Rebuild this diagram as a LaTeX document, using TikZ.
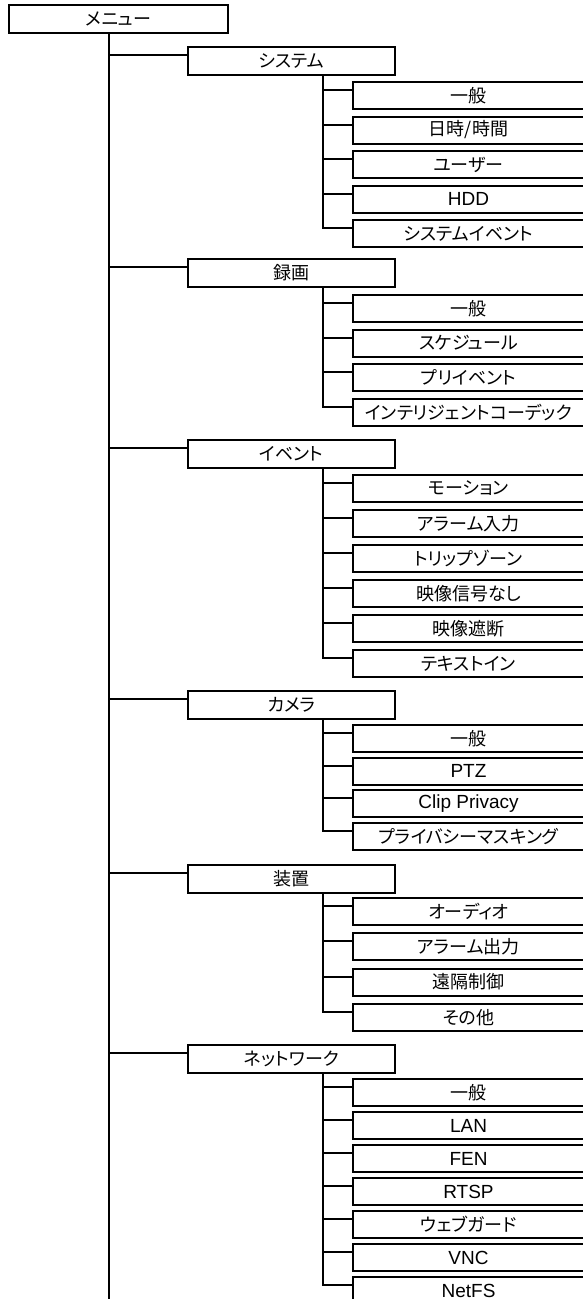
\documentclass[tikz,border=0pt]{standalone}
\usepackage{fontspec}
\setmainfont{Liberation Sans}
\newfontfamily\jp[RawFeature=+palt]{Noto Sans CJK JP}
\usetikzlibrary{positioning}
\tikzset{
  menubox/.style={rectangle,draw=black,line width=2pt,fill=white,anchor=north west,inner sep=0pt,outer sep=0pt,minimum width=219pt,minimum height=28pt,font=\jp\fontsize{18}{20}\selectfont},
  groupbox/.style={rectangle,draw=black,line width=2pt,fill=white,anchor=north west,inner sep=0pt,outer sep=0pt,minimum width=207pt,minimum height=28pt,font=\jp\fontsize{18}{20}\selectfont},
  itembox/.style={rectangle,draw=black,line width=2pt,fill=white,anchor=north west,inner sep=0pt,outer sep=0pt,minimum width=231pt,minimum height=27pt,font=\jp\fontsize{18}{20}\selectfont},
  latin/.style={font=\fontsize{19}{22}\selectfont},
  link/.style={line width=2pt,black}
}

\begin{document}
\begin{tikzpicture}[x=1pt,y=-1pt]
    \path[use as bounding box,fill=white] (0,0) rectangle (582,1299);

    \node[menubox] (menu) at (9,5) {メニュー};
    \coordinate (mainroot) at ([xshift=-9.5pt]menu.south);
    \coordinate (mainend) at (109,1299);

    % システム
    \node[groupbox] (sys) at (188,47) {システム};
    \node[itembox] (sys1) at (353,82) {一般};
    \node[itembox,below=7.5pt of sys1] (sys2) {日時/時間};
    \node[itembox,below=7.5pt of sys2] (sys3) {ユーザー};
    \node[itembox,latin,below=7.5pt of sys3] (sys4) {HDD};
    \node[itembox,below=7.5pt of sys4] (sys5) {システムイベント};

    % 録画
    \node[groupbox] (rec) at (188,259) {録画};
    \node[itembox] (rec1) at (353,295) {一般};
    \node[itembox,below=7.5pt of rec1] (rec2) {スケジュール};
    \node[itembox,below=7.5pt of rec2] (rec3) {プリイベント};
    \node[itembox,below=7.5pt of rec3] (rec4) {インテリジェントコーデック};

    % イベント
    \node[groupbox] (evt) at (188,440) {イベント};
    \node[itembox] (evt1) at (353,475) {モーション};
    \node[itembox,below=8pt of evt1] (evt2) {アラーム入力};
    \node[itembox,below=8pt of evt2] (evt3) {トリップゾーン};
    \node[itembox,below=8pt of evt3] (evt4) {映像信号なし};
    \node[itembox,below=8pt of evt4] (evt5) {映像遮断};
    \node[itembox,below=8pt of evt5] (evt6) {テキストイン};

    % カメラ
    \node[groupbox] (cam) at (188,691) {カメラ};
    \node[itembox] (cam1) at (353,725) {一般};
    \node[itembox,latin,below=5.7pt of cam1] (cam2) {PTZ};
    \node[itembox,latin,below=5.7pt of cam2] (cam3) {Clip Privacy};
    \node[itembox,below=5.7pt of cam3] (cam4) {プライバシーマスキング};

    % 装置
    \node[groupbox] (dev) at (188,865) {装置};
    \node[itembox] (dev1) at (353,898) {オーディオ};
    \node[itembox,below=8.3pt of dev1] (dev2) {アラーム出力};
    \node[itembox,below=8.3pt of dev2] (dev3) {遠隔制御};
    \node[itembox,below=8.3pt of dev3] (dev4) {その他};

    % ネットワーク
    \node[groupbox] (net) at (188,1045) {ネットワーク};
    \node[itembox] (net1) at (353,1079) {一般};
    \node[itembox,latin,below=6pt of net1] (net2) {LAN};
    \node[itembox,latin,below=6pt of net2] (net3) {FEN};
    \node[itembox,latin,below=6pt of net3] (net4) {RTSP};
    \node[itembox,below=6pt of net4] (net5) {ウェブガード};
    \node[itembox,latin,below=6pt of net5] (net6) {VNC};
    \node[itembox,latin,below=6pt of net6] (net7) {NetFS};

    % main trunk
    \draw[link] (mainroot) -- (mainend);
    \draw[link] (mainroot) |- ([yshift=6pt]sys.west);
    \draw[link] (mainroot) |- ([yshift=6pt]rec.west);
    \draw[link] (mainroot) |- ([yshift=6pt]evt.west);
    \draw[link] (mainroot) |- ([yshift=6pt]cam.west);
    \draw[link] (mainroot) |- ([yshift=6pt]dev.west);
    \draw[link] (mainroot) |- ([yshift=6pt]net.west);

    % sub trunks
    \draw[link] ([xshift=31.5pt]sys.south) |- ([yshift=5.5pt]sys1.west);
    \draw[link] ([xshift=31.5pt]sys.south) |- ([yshift=5.5pt]sys2.west);
    \draw[link] ([xshift=31.5pt]sys.south) |- ([yshift=5.5pt]sys3.west);
    \draw[link] ([xshift=31.5pt]sys.south) |- ([yshift=5.5pt]sys4.west);
    \draw[link] ([xshift=31.5pt]sys.south) |- ([yshift=5.5pt]sys5.west);

    \draw[link] ([xshift=31.5pt]rec.south) |- ([yshift=5.5pt]rec1.west);
    \draw[link] ([xshift=31.5pt]rec.south) |- ([yshift=5.5pt]rec2.west);
    \draw[link] ([xshift=31.5pt]rec.south) |- ([yshift=5.5pt]rec3.west);
    \draw[link] ([xshift=31.5pt]rec.south) |- ([yshift=5.5pt]rec4.west);

    \draw[link] ([xshift=31.5pt]evt.south) |- ([yshift=5.5pt]evt1.west);
    \draw[link] ([xshift=31.5pt]evt.south) |- ([yshift=5.5pt]evt2.west);
    \draw[link] ([xshift=31.5pt]evt.south) |- ([yshift=5.5pt]evt3.west);
    \draw[link] ([xshift=31.5pt]evt.south) |- ([yshift=5.5pt]evt4.west);
    \draw[link] ([xshift=31.5pt]evt.south) |- ([yshift=5.5pt]evt5.west);
    \draw[link] ([xshift=31.5pt]evt.south) |- ([yshift=5.5pt]evt6.west);

    \draw[link] ([xshift=31.5pt]cam.south) |- ([yshift=5.5pt]cam1.west);
    \draw[link] ([xshift=31.5pt]cam.south) |- ([yshift=5.5pt]cam2.west);
    \draw[link] ([xshift=31.5pt]cam.south) |- ([yshift=5.5pt]cam3.west);
    \draw[link] ([xshift=31.5pt]cam.south) |- ([yshift=5.5pt]cam4.west);

    \draw[link] ([xshift=31.5pt]dev.south) |- ([yshift=5.5pt]dev1.west);
    \draw[link] ([xshift=31.5pt]dev.south) |- ([yshift=5.5pt]dev2.west);
    \draw[link] ([xshift=31.5pt]dev.south) |- ([yshift=5.5pt]dev3.west);
    \draw[link] ([xshift=31.5pt]dev.south) |- ([yshift=5.5pt]dev4.west);

    \draw[link] ([xshift=31.5pt]net.south) |- ([yshift=5.5pt]net1.west);
    \draw[link] ([xshift=31.5pt]net.south) |- ([yshift=5.5pt]net2.west);
    \draw[link] ([xshift=31.5pt]net.south) |- ([yshift=5.5pt]net3.west);
    \draw[link] ([xshift=31.5pt]net.south) |- ([yshift=5.5pt]net4.west);
    \draw[link] ([xshift=31.5pt]net.south) |- ([yshift=5.5pt]net5.west);
    \draw[link] ([xshift=31.5pt]net.south) |- ([yshift=5.5pt]net6.west);
    \draw[link] ([xshift=31.5pt]net.south) |- ([yshift=5.5pt]net7.west);
  \end{tikzpicture}
\end{document}
